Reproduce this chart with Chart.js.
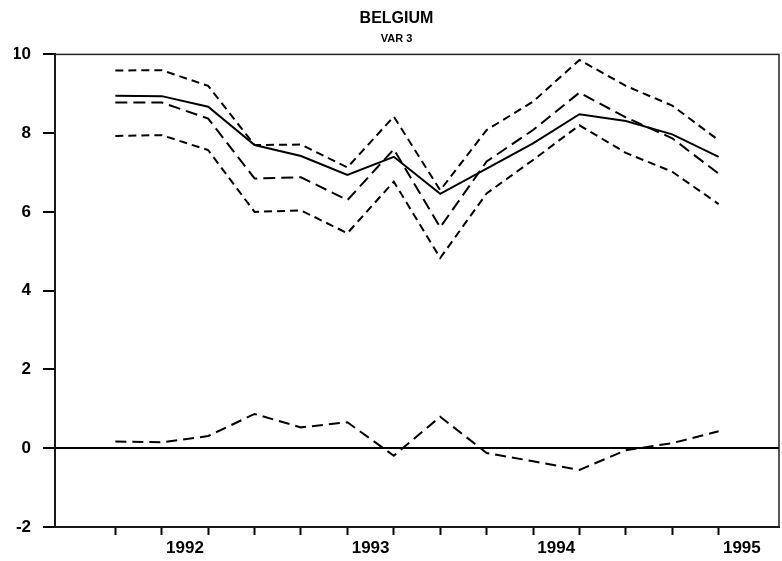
<!DOCTYPE html>
<html>
<head>
<meta charset="utf-8">
<script src="https://cdn.jsdelivr.net/npm/chart.js@4/dist/chart.umd.min.js"></script>
<style>
  html, body { margin: 0; padding: 0; background: #fff; }
  #wrap { width: 782px; height: 561px; }
</style>
</head>
<body>
<div id="wrap"><canvas id="belgicaChart"></canvas></div>
<script>
// valores (trimestres)
const bandaSup  = [9.59, 9.60, 9.20, 7.70, 7.71, 7.13, 8.42, 6.55, 8.08, 8.80, 9.86, 9.20, 8.70, 7.82];
const observado = [8.95, 8.94, 8.67, 7.70, 7.42, 6.94, 7.40, 6.46, 7.10, 7.74, 8.48, 8.31, 7.97, 7.40];
const estimado  = [8.78, 8.78, 8.37, 6.85, 6.88, 6.30, 7.59, 5.61, 7.28, 8.08, 9.03, 8.40, 7.87, 6.97];
const bandaInf  = [7.93, 7.95, 7.57, 6.00, 6.04, 5.46, 6.77, 4.83, 6.47, 7.32, 8.20, 7.50, 7.02, 6.20];
const diferencia = [0.17, 0.15, 0.31, 0.87, 0.53, 0.66, -0.19, 0.80, -0.12, -0.33, -0.55, -0.05, 0.13, 0.43];

const anios = ['1992', '1993', '1994', '1995'];
const yTicks = [-2, 0, 2, 4, 6, 8, 10];

const fuente = "'Liberation Sans', Arial, Helvetica, sans-serif";

function puntos(valores) {
    return valores.map(function (v, i) { return { x: i, y: v }; });
}

// el año va entre el 2do y 3er trimestre marcado
function posAnio(i) { return 1.5 + i * 4; }

const marco = {
    id: 'marco',
    afterDraw: function (chart) {
        const a = chart.chartArea;
        const ctx = chart.ctx;
        ctx.save();
        ctx.strokeStyle = '#222';
        ctx.lineWidth = 1.5;
        ctx.strokeRect(a.left, a.top, a.right - a.left, a.bottom - a.top);
        ctx.restore();
    }
};

function crearGrafico() {
    const ctx = document.getElementById('belgicaChart').getContext('2d');
    const n = observado.length;

    const linea = function (datos, dash) {
        return {
            data: puntos(datos),
            borderColor: '#000',
            borderWidth: 2,
            borderDash: dash,
            pointRadius: 0,
            tension: 0,
            fill: false
        };
    };

    new Chart(ctx, {
        type: 'line',
        data: {
            datasets: [
                linea(bandaSup, [8, 5]),
                linea(observado, []),
                linea(estimado, [12, 6]),
                linea(bandaInf, [8, 5]),
                linea(diferencia, [11, 6])
            ]
        },
        options: {
            responsive: true,
            maintainAspectRatio: false,
            animation: false,
            layout: { padding: { left: 14, right: 3, top: 0, bottom: 0 } },
            plugins: {
                legend: { display: false },
                tooltip: { enabled: false },
                title: {
                    display: true,
                    text: 'BELGIUM',
                    color: '#000',
                    font: { family: fuente, size: 16, weight: 'bold' },
                    padding: { top: 9, bottom: 4 }
                },
                subtitle: {
                    display: true,
                    text: 'VAR 3',
                    color: '#000',
                    font: { family: fuente, size: 11, weight: 'bold' },
                    padding: { top: 0, bottom: 9 }
                }
            },
            scales: {
                x: {
                    type: 'linear',
                    min: -1.3,
                    max: n - 1 + 1.3,
                    afterBuildTicks: function (scale) {
                        const t = [];
                        for (let i = 0; i < n; i++) t.push({ value: i });
                        anios.forEach(function (a, i) { t.push({ value: posAnio(i) }); });
                        t.sort(function (p, q) { return p.value - q.value; });
                        scale.ticks = t;
                    },
                    afterFit: function (scale) { scale.height = 34; },
                    border: { display: true, color: '#000', width: 2 },
                    grid: {
                        drawOnChartArea: false,
                        drawTicks: true,
                        tickLength: 8,
                        tickWidth: 2,
                        tickColor: function (c) {
                            return Number.isInteger(c.tick.value) ? '#000' : 'rgba(0,0,0,0)';
                        }
                    },
                    ticks: {
                        autoSkip: false,
                        maxRotation: 0,
                        padding: 3,
                        color: '#000',
                        font: { family: fuente, size: 17, weight: 'bold' },
                        callback: function (value) {
                            const i = anios.findIndex(function (a, k) { return posAnio(k) === value; });
                            return i >= 0 ? anios[i] : '';
                        }
                    }
                },
                y: {
                    min: -2,
                    max: 10,
                    afterBuildTicks: function (scale) {
                        scale.ticks = yTicks.map(function (v) { return { value: v }; });
                    },
                    afterFit: function (scale) { scale.width = 41; },
                    border: { display: true, color: '#000', width: 2 },
                    grid: {
                        drawTicks: true,
                        tickLength: 12,
                        tickWidth: 2,
                        tickColor: '#000',
                        lineWidth: 2,
                        color: function (c) {
                            return c.tick && c.tick.value === 0 ? '#000' : 'rgba(0,0,0,0)';
                        }
                    },
                    ticks: {
                        padding: 12,
                        color: '#000',
                        font: { family: fuente, size: 17, weight: 'bold' }
                    }
                }
            }
        },
        plugins: [marco]
    });
}

crearGrafico();
</script>
</body>
</html>
